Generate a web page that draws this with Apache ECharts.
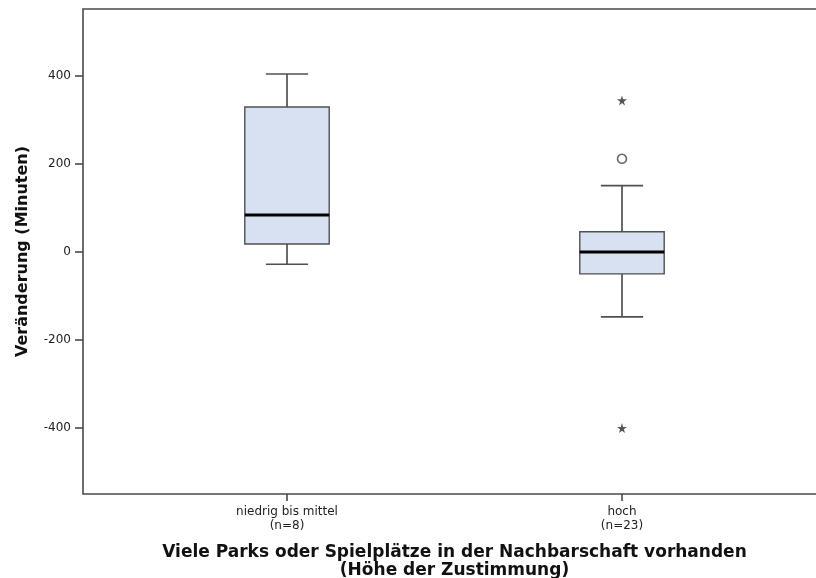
<!DOCTYPE html>
<html>
<head>
<meta charset="utf-8">
<title>Veränderung nach Parks und Spielplätzen</title>
<script src="https://cdn.jsdelivr.net/npm/echarts@6/dist/echarts.min.js"></script>
<style>
  html, body { margin: 0; padding: 0; background: #fff; }
  #chart { width: 816px; height: 578px; }
</style>
</head>
<body>
<div id="chart"></div>
<script>
// Groups on the x axis and their sample sizes
const categories = ['niedrig bis mittel', 'hoch'];
const groupSizes = [8, 23];

// Box statistics per group: [lower whisker, Q1, median, Q3, upper whisker]
const boxStats = [
  [-28, 18, 84, 330, 405],
  [-148, -50, 0, 46, 151]
];

// Outliers as [group index, value]
const mildOutliers = [[1, 212]];
const extremeOutliers = [[1, 345], [1, -401]];

// Y axis tick values
const yTicks = [-400, -200, 0, 200, 400];

const AXIS_COLOR = '#4a4a4a';
const BOX_HALF = 0.126;
const CAP_HALF = 0.063;
const STAR = 'path://M50,0 L61,35 L98,35 L68,57 L79,91 L50,70 L21,91 L32,57 L2,35 L39,35 Z';

function renderBox(params, api) {
  const x = api.value(0);
  const lo = api.coord([x, api.value(1)]);
  const q1 = api.coord([x, api.value(2)]);
  const med = api.coord([x, api.value(3)]);
  const q3 = api.coord([x, api.value(4)]);
  const hi = api.coord([x, api.value(5)]);
  const halfBox = api.size([BOX_HALF, 0])[0];
  const halfCap = api.size([CAP_HALF, 0])[0];
  const cx = lo[0];
  const whisker = { stroke: '#505050', lineWidth: 1.7 };
  return {
    type: 'group',
    children: [
      { type: 'line', shape: { x1: cx, y1: hi[1], x2: cx, y2: q3[1] }, style: whisker },
      { type: 'line', shape: { x1: cx, y1: q1[1], x2: cx, y2: lo[1] }, style: whisker },
      { type: 'line', shape: { x1: cx - halfCap, y1: hi[1], x2: cx + halfCap, y2: hi[1] }, style: whisker },
      { type: 'line', shape: { x1: cx - halfCap, y1: lo[1], x2: cx + halfCap, y2: lo[1] }, style: whisker },
      {
        type: 'rect',
        shape: { x: cx - halfBox, y: q3[1], width: 2 * halfBox, height: q1[1] - q3[1] },
        style: { fill: '#d8e1f1', stroke: '#505050', lineWidth: 1.4 }
      },
      {
        type: 'line',
        shape: { x1: cx - halfBox, y1: med[1], x2: cx + halfBox, y2: med[1] },
        style: { stroke: '#000', lineWidth: 3 }
      }
    ]
  };
}

const chart = echarts.init(document.getElementById('chart'), null, { renderer: 'canvas' });

chart.setOption({
  animation: false,
  backgroundColor: '#fff',
  grid: {
    left: 83, top: 9, width: 743, height: 485,
    outerBoundsMode: 'none',
    containLabel: false,
    show: true, borderColor: AXIS_COLOR, borderWidth: 1.6, backgroundColor: 'transparent'
  },
  xAxis: {
    type: 'value',
    min: -0.609,
    max: 1.609,
    splitLine: { show: false },
    axisLine: { show: false, onZero: false },
    axisTick: {
      show: true, length: 7, customValues: [0, 1],
      lineStyle: { color: AXIS_COLOR, width: 1.6 }
    },
    axisLabel: {
      customValues: [0, 1],
      formatter: v => categories[Math.round(v)] + '\n(n=' + groupSizes[Math.round(v)] + ')',
      fontFamily: 'DejaVu Sans',
      fontSize: 12,
      lineHeight: 14,
      color: '#222',
      margin: 11
    },
    name: 'Viele Parks oder Spielplätze in der Nachbarschaft vorhanden\n(Höhe der Zustimmung)',
    nameLocation: 'middle',
    nameGap: 50,
    nameTextStyle: {
      fontFamily: 'DejaVu Sans',
      fontWeight: 'bold',
      fontSize: 17,
      lineHeight: 18,
      color: '#111'
    }
  },
  yAxis: {
    type: 'value',
    min: -551,
    max: 553,
    splitLine: { show: false },
    axisLine: { show: false, onZero: false },
    axisTick: {
      show: true, length: 8, customValues: yTicks,
      lineStyle: { color: AXIS_COLOR, width: 1.6 }
    },
    axisLabel: {
      customValues: yTicks,
      fontFamily: 'DejaVu Sans',
      fontSize: 12,
      color: '#222',
      margin: 12
    },
    name: 'Veränderung (Minuten)',
    nameLocation: 'middle',
    nameGap: 52,
    nameTextStyle: {
      fontFamily: 'DejaVu Sans',
      fontWeight: 'bold',
      fontSize: 16,
      color: '#111'
    }
  },
  series: [
    {
      type: 'custom',
      renderItem: renderBox,
      encode: { x: 0, y: [1, 2, 3, 4, 5] },
      data: boxStats.map((s, i) => [i].concat(s)),
      z: 2
    },
    {
      type: 'scatter',
      symbol: 'circle',
      symbolSize: 9,
      itemStyle: { color: '#fff', borderColor: '#444', borderWidth: 1.6 },
      data: mildOutliers,
      z: 3
    },
    {
      type: 'scatter',
      symbol: STAR,
      symbolSize: 10,
      itemStyle: { color: '#2a2a2a' },
      data: extremeOutliers,
      z: 3
    }
  ]
});
</script>
</body>
</html>
